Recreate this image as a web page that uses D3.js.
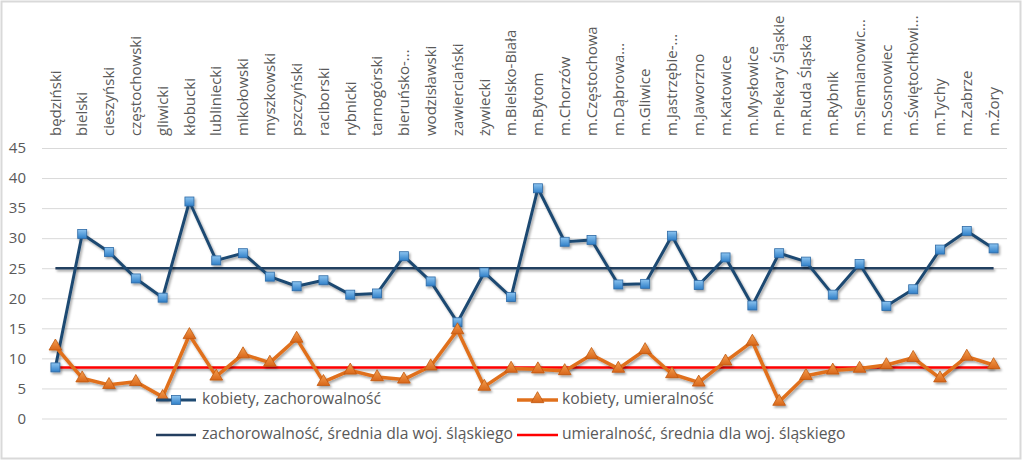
<!DOCTYPE html>
<html>
<head>
<meta charset="utf-8">
<script src="https://cdn.jsdelivr.net/npm/d3@7"></script>
<style>
  html, body { margin: 0; padding: 0; background: #fff; }
  svg { display: block; }
</style>
</head>
<body>
<svg id="chart" width="1024" height="460"></svg>
<script>
const categories = ["będziński","bielski","cieszyński","częstochowski","gliwicki","kłobucki","lubliniecki","mikołowski","myszkowski","pszczyński","raciborski","rybnicki","tarnogórski","bieruńsko-...","wodzisławski","zawierciański","żywiecki","m.Bielsko-Biała","m.Bytom","m.Chorzów","m.Częstochowa","m.Dąbrowa...","m.Gliwice","m.Jastrzębie-...","m.Jaworzno","m.Katowice","m.Mysłowice","m.Piekary Śląskie","m.Ruda Śląska","m.Rybnik","m.Siemianowic...","m.Sosnowiec","m.Świętochłowi...","m.Tychy","m.Zabrze","m.Żory"];
const zachorowalnosc = [8.5,30.7,27.7,23.3,20.1,36.1,26.3,27.5,23.6,22.0,23.0,20.6,20.8,27.0,22.8,16.0,24.3,20.2,38.3,29.4,29.7,22.3,22.4,30.4,22.2,26.8,18.8,27.5,26.1,20.6,25.7,18.7,21.5,28.1,31.2,28.3];
const umieralnosc = [12.0,6.7,5.6,6.1,3.6,13.9,7.0,10.7,9.3,13.3,6.1,8.0,6.9,6.5,8.7,14.7,5.3,8.3,8.2,7.9,10.6,8.3,11.4,7.4,6.0,9.5,12.8,2.8,7.1,8.0,8.3,8.9,10.1,6.7,10.3,8.9];
const sredniaZach = 25.0;
const sredniaUmier = 8.5;
const yTicks = [0,5,10,15,20,25,30,35,40,45];
const legendLabels = ["kobiety, zachorowalność","kobiety, umieralność","zachorowalność, średnia dla woj. śląskiego","umieralność, średnia dla woj. śląskiego"];

const svg = d3.select("#chart");
const defs = svg.append("defs");
const f = defs.append("filter").attr("id","shadow").attr("filterUnits","userSpaceOnUse")
  .attr("x",0).attr("y",0).attr("width",1024).attr("height",460);
f.append("feDropShadow").attr("dx",1.5).attr("dy",2).attr("stdDeviation",1.3).attr("flood-color","#000").attr("flood-opacity",0.35);
const g1 = defs.append("linearGradient").attr("id","sqgrad").attr("x1",0).attr("y1",0).attr("x2",0).attr("y2",1);
g1.append("stop").attr("offset","0%").attr("stop-color","#8cc4f0");
g1.append("stop").attr("offset","100%").attr("stop-color","#2f7fc8");
const g2 = defs.append("linearGradient").attr("id","trgrad").attr("x1",0).attr("y1",0).attr("x2",0).attr("y2",1);
g2.append("stop").attr("offset","0%").attr("stop-color","#f5a050");
g2.append("stop").attr("offset","100%").attr("stop-color","#d8661a");

// chart border
svg.append("rect").attr("x",1.5).attr("y",1.5).attr("width",1019).attr("height",457)
  .attr("fill","#fff").attr("stroke","#d9d9d9").attr("stroke-width",2);

const x = d3.scaleBand().domain(categories).range([42,1007]).padding(0);
const cx = c => x(c) + x.bandwidth()/2;
const y = d3.scaleLinear().domain([0,45]).range([418.5,148]);

// gridlines
const grid = svg.append("g").attr("transform","translate(42,0)")
  .call(d3.axisLeft(y).tickValues(yTicks).tickSize(-965).tickFormat(""));
grid.select(".domain").remove();
grid.selectAll("line").attr("stroke","#d9d9d9").attr("stroke-width",1);

// y labels
const yAxis = svg.append("g").attr("transform","translate(42,0)")
  .call(d3.axisLeft(y).tickValues(yTicks).tickSize(0).tickPadding(16));
yAxis.select(".domain").remove();
yAxis.selectAll("text").attr("font-family","'Open Sans', sans-serif").attr("font-size","15px").attr("fill","#595959");

// category labels
const xAxis = svg.append("g").attr("transform","translate(0,136)")
  .call(d3.axisTop(x).tickSize(0).tickPadding(0));
xAxis.select(".domain").remove();
xAxis.selectAll("text")
  .attr("transform","rotate(-90)")
  .attr("text-anchor","start")
  .attr("x",0).attr("y",0).attr("dy","0.35em")
  .attr("font-family","'Open Sans', sans-serif").attr("font-size","15px").attr("fill","#595959");

// average lines
const first = categories[0], last = categories[categories.length-1];
const avg = svg.append("g").attr("filter","url(#shadow)");
avg.append("line").attr("x1",cx(first)).attr("x2",cx(last)).attr("y1",y(sredniaZach)).attr("y2",y(sredniaZach))
  .attr("stroke","#243f60").attr("stroke-width",2.5);
avg.append("line").attr("x1",cx(first)).attr("x2",cx(last)).attr("y1",y(sredniaUmier)).attr("y2",y(sredniaUmier))
  .attr("stroke","#ff0000").attr("stroke-width",2.5);

const line = d3.line().x((d,i)=>cx(categories[i])).y(d=>y(d));

// blue series
const gb = svg.append("g").attr("filter","url(#shadow)");
gb.append("path").datum(zachorowalnosc).attr("d",line).attr("fill","none")
  .attr("stroke","#1f4a72").attr("stroke-width",3).attr("stroke-linejoin","round");
gb.selectAll("rect").data(zachorowalnosc).join("rect")
  .attr("x",(d,i)=>cx(categories[i])-4.5).attr("y",d=>y(d)-4.5)
  .attr("width",9).attr("height",9).attr("fill","url(#sqgrad)").attr("stroke","#2e6aa5").attr("stroke-width",0.8);

// orange series
const tri = d3.symbol().type(d3.symbolTriangle).size(70);
const go = svg.append("g").attr("filter","url(#shadow)");
go.append("path").datum(umieralnosc).attr("d",line).attr("fill","none")
  .attr("stroke","#e0701c").attr("stroke-width",3.5).attr("stroke-linejoin","round");
go.selectAll("path.m").data(umieralnosc).join("path").attr("class","m")
  .attr("d",tri).attr("transform",(d,i)=>`translate(${cx(categories[i])},${y(d)})`)
  .attr("fill","url(#trgrad)").attr("stroke","#c0580f").attr("stroke-width",0.8);

// legend
const lf = "'Open Sans',sans-serif";
const leg = svg.append("g");
function legText(xp, yp, t){
  leg.append("text").attr("x",xp).attr("y",yp).attr("dy","0.35em").text(t)
    .attr("font-family",lf).attr("font-size","15.7px").attr("fill","#595959");
}
// row 1
leg.append("line").attr("x1",156).attr("x2",196).attr("y1",400).attr("y2",400).attr("stroke","#1f4a72").attr("stroke-width",3);
leg.append("rect").attr("x",171.5).attr("y",395.5).attr("width",9).attr("height",9).attr("fill","url(#sqgrad)").attr("stroke","#2e6aa5").attr("stroke-width",0.8);
legText(202,399,legendLabels[0]);
leg.append("line").attr("x1",517).attr("x2",558).attr("y1",400).attr("y2",400).attr("stroke","#e0701c").attr("stroke-width",3.5);
leg.append("path").attr("d",tri).attr("transform","translate(537.5,399)").attr("fill","url(#trgrad)").attr("stroke","#c0580f").attr("stroke-width",0.8);
legText(562,399,legendLabels[1]);
// row 2
leg.append("line").attr("x1",156).attr("x2",196).attr("y1",435).attr("y2",435).attr("stroke","#243f60").attr("stroke-width",2.5);
legText(202,434,legendLabels[2]);
leg.append("line").attr("x1",517).attr("x2",558).attr("y1",435).attr("y2",435).attr("stroke","#ff0000").attr("stroke-width",2.5);
legText(562,434,legendLabels[3]);
</script>
</body>
</html>
